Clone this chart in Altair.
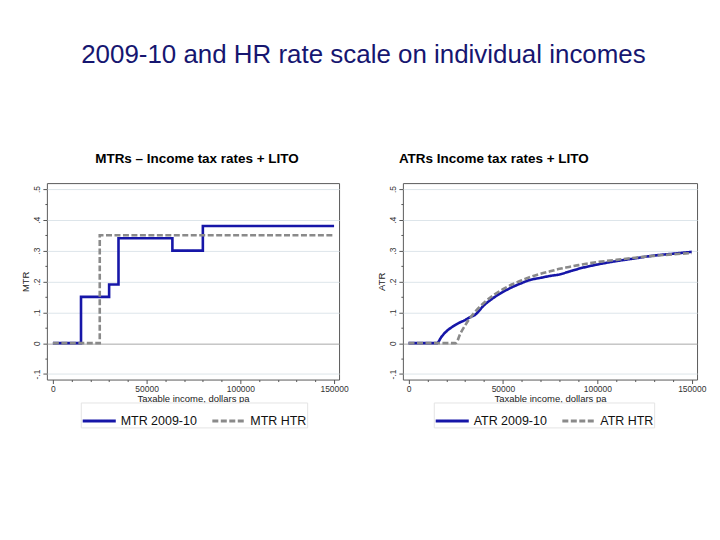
import altair as alt
import pandas as pd

# ---------------- data ----------------
MTR_NAMES = ["MTR 2009-10", "MTR HTR"]
ATR_NAMES = ["ATR 2009-10", "ATR HTR"]

# marginal rates (step functions, value holds until next income point)
mtr0910_income = [0, 15000, 30000, 35000, 63750, 80000, 150000]
mtr0910_rate = [0.0, 0.15, 0.19, 0.34, 0.30, 0.38, 0.38]
mtrhtr_income = [0, 25000, 150000]
mtrhtr_rate = [0.0, 0.35, 0.35]

# average rates
atr_income = [0, 15000, 17500, 20000, 22500, 25000, 27500, 30000, 32500, 35000,
              40000, 45000, 50000, 55000, 60000, 63750, 70000, 75000, 80000,
              85000, 90000, 100000, 110000, 120000, 130000, 140000, 150000]
atr0910_rate = [0.0, 0.0, 0.021, 0.038, 0.050, 0.060, 0.068, 0.075, 0.084, 0.091,
                0.123, 0.147, 0.166, 0.182, 0.195, 0.204, 0.212, 0.218, 0.223,
                0.232, 0.241, 0.255, 0.266, 0.275, 0.284, 0.290, 0.296]
atrhtr_rate = [0.0, 0.0, 0.0, 0.0, 0.0, 0.0, 0.032, 0.058, 0.081, 0.100,
               0.131, 0.156, 0.175, 0.191, 0.204, 0.213, 0.225, 0.233, 0.241,
               0.247, 0.253, 0.263, 0.270, 0.277, 0.283, 0.288, 0.292]

y_ticks = [-0.1, -0.05, 0, 0.05, 0.1, 0.15, 0.2, 0.25, 0.3, 0.35, 0.4, 0.45, 0.5]
x_ticks = [0, 10000, 20000, 30000, 40000, 50000, 60000, 70000, 80000, 90000,
           100000, 110000, 120000, 130000, 140000, 150000]

mtr_df = pd.concat([
    pd.DataFrame({"income": mtr0910_income, "rate": mtr0910_rate, "series": MTR_NAMES[0]}),
    pd.DataFrame({"income": mtrhtr_income, "rate": mtrhtr_rate, "series": MTR_NAMES[1]}),
])
atr_df = pd.concat([
    pd.DataFrame({"income": atr_income, "rate": atr0910_rate, "series": ATR_NAMES[0]}),
    pd.DataFrame({"income": atr_income, "rate": atrhtr_rate, "series": ATR_NAMES[1]}),
])

# ---------------- style ----------------
FONT = "Liberation Sans"
BLUE = "#1616a8"
GRAY = "#8a8a8a"
MINOR_Y = "abs(datum.value*10 - round(datum.value*10)) > 0.01"
MINOR_X = "datum.value % 50000 != 0"

y_label_expr = (
    "abs(datum.value*10 - round(datum.value*10)) > 0.01 ? '' : "
    "(abs(datum.value) < 1e-9 ? '0' : (datum.value < 0 ? '-' + substring(format(-datum.value, '.1f'), 1) "
    ": substring(format(datum.value, '.1f'), 1)))"
)


def y_axis(title):
    return alt.Axis(
        title=title, values=y_ticks, labelExpr=y_label_expr, labelAngle=270,
        labelAlign="center", labelBaseline="bottom", labelFontSize=8.5, labelColor="#333",
        labelFont=FONT, labelPadding=1, titleFont=FONT, titleFontSize=9.5,
        titleFontWeight="normal", titleColor="#222", titlePadding=2,
        domain=False, tickColor="#555",
        tickSize={"condition": {"test": MINOR_Y, "value": 2}, "value": 4},
        grid=True,
        gridOpacity={"condition": {"test": MINOR_Y, "value": 0}, "value": 1},
        gridColor={"condition": {"test": "abs(datum.value) < 1e-9", "value": "#a8a8a8"}, "value": "#dde5ea"},
        labelOverlap=False, labelFlush=False,
    )


x_axis = alt.Axis(
    title="Taxable income, dollars pa", values=x_ticks,
    labelExpr="datum.value % 50000 == 0 ? format(datum.value, 'd') : ''",
    labelFontSize=8.5, labelColor="#333", labelFont=FONT, labelPadding=1,
    titleFont=FONT, titleFontSize=9.5, titleFontWeight="normal", titleColor="#222",
    titlePadding=1, domain=False, grid=False, tickColor="#555",
    tickSize={"condition": {"test": MINOR_X, "value": 2}, "value": 4},
    labelOverlap=False, labelFlush=False,
)


def panel(df, names, title, ytitle, xdom, interp, width, anchor, dx, legend_x):
    leg = alt.Legend(
        title=None, orient="none", legendX=legend_x, legendY=220, direction="horizontal",
        symbolType="stroke", symbolSize=1100, symbolStrokeWidth=3, labelFontSize=12.5,
        labelFont=FONT, labelColor="#111", labelOffset=3, columnPadding=8,
        padding=0, strokeColor="#e4e4e4", fillColor="white",
    )
    return alt.Chart(df).mark_line(strokeWidth=2.6, interpolate=interp, clip=True).encode(
        x=alt.X("income:Q", scale=alt.Scale(domain=xdom, nice=False, zero=False), axis=x_axis),
        y=alt.Y("rate:Q", scale=alt.Scale(domain=[-0.118, 0.519], nice=False, zero=False),
                axis=y_axis(ytitle)),
        color=alt.Color("series:N", scale=alt.Scale(domain=names, range=[BLUE, GRAY]),
                        sort=names, legend=leg),
        strokeDash=alt.StrokeDash("series:N", scale=alt.Scale(domain=names, range=[[1, 0], [6, 2.5]]),
                                  sort=names, legend=leg),
        order=alt.Order("income:Q"),
    ).properties(
        width=width, height=197,
        title=alt.TitleParams(title, font=FONT, fontSize=13.5, fontWeight="bold", color="#000",
                              anchor=anchor, frame="group", dx=dx, offset=18),
    )


left = panel(mtr_df, MTR_NAMES, "MTRs \u2013 Income tax rates + LITO", "MTR",
             [-3200, 152660], "step-after", 293, "middle", 4, 34)
right = panel(atr_df, ATR_NAMES, "ATRs Income tax rates + LITO", "ATR",
              [-3000, 152800], "monotone", 295, "start", -4, 31)

chart = alt.hconcat(left, right, spacing=27).resolve_scale(
    color="independent", strokeDash="independent", x="independent", y="independent"
).resolve_legend(color="independent", strokeDash="independent").properties(
    title=alt.TitleParams("2009-10 and HR rate scale on individual incomes", font=FONT,
                          fontSize=26, fontWeight="normal", color="#161670",
                          anchor="middle", offset=83),
    padding={"left": 12, "top": 34, "right": 5, "bottom": 5},
    background="white",
).configure_view(stroke="#5a5a5a", strokeWidth=1)

chart.save("out.html", embed_options={"renderer": "svg", "actions": False})
